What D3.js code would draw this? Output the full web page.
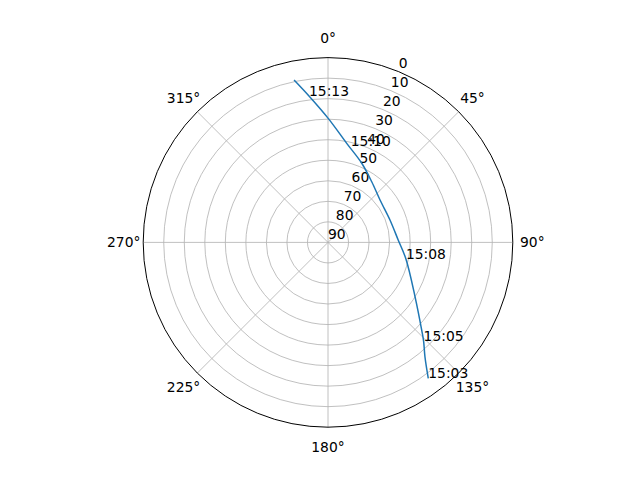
<!DOCTYPE html>
<html><head><meta charset="utf-8">
<script src="https://cdn.jsdelivr.net/npm/d3@7"></script>
<style>body{margin:0;background:#fff}svg{display:block}text{font-family:"DejaVu Sans",sans-serif;font-size:13.89px;fill:#000}</style>
</head><body>
<script>
// Pass track, ordered in time (azimuth deg, elevation deg)
const trackAz = [143.6, 139.7, 135.9, 133.1, 122.0, 102.0, 88.0, 70.1, 50.8, 35.8, 23.1, 10.7, 0.1, 352.6, 348.2];
const trackEl = [7.7, 17.0, 23.1, 27.5, 40.0, 51.2, 55.8, 57.9, 57.3, 53.6, 48.1, 40.9, 29.6, 18.1, 9.2];
// Time annotations
const labelTimes = ["15:03", "15:05", "15:08", "15:10", "15:13"];
const labelAz = [143.6, 135.9, 102.0, 13.3, 352.6];
const labelEl = [7.7, 23.1, 51.2, 41.8, 18.1];
// Axis ticks
const thetaTicks = [0, 45, 90, 135, 180, 225, 270, 315];
const rTicks = [0, 10, 20, 30, 40, 50, 60, 70, 80, 90];

const W = 640, H = 480, cx = 328, cy = 242.4, R = 184.8;
const svg = d3.select("body").append("svg").attr("width", W).attr("height", H);
const g = svg.append("g").attr("transform", `translate(${cx},${cy})`);
const r = d3.scaleLinear().domain([0, 90]).range([R, 0]);
const rad = d => d * Math.PI / 180;
const pt = (az, v) => [r(v) * Math.sin(rad(az)), -r(v) * Math.cos(rad(az))];

// radial grid circles
g.selectAll("circle.grid").data(rTicks.filter(v => v > 0 && v < 90)).enter().append("circle")
  .attr("r", d => r(d)).attr("fill", "none").attr("stroke", "#b0b0b0").attr("stroke-width", 0.8);
// theta gridlines
g.selectAll("line.tg").data(thetaTicks).enter().append("line")
  .attr("x1", 0).attr("y1", 0)
  .attr("x2", d => pt(d, 0)[0]).attr("y2", d => pt(d, 0)[1])
  .attr("stroke", "#b0b0b0").attr("stroke-width", 0.8);
// outer spine
g.append("circle").attr("r", R).attr("fill", "none").attr("stroke", "#000").attr("stroke-width", 1);

// theta labels
g.selectAll("text.th").data(thetaTicks).enter().append("text")
  .attr("x", d => (R + 19.5) * Math.sin(rad(d)))
  .attr("y", d => -(R + 19.5) * Math.cos(rad(d)))
  .attr("text-anchor", "middle").attr("dominant-baseline", "central")
  .text(d => d + "°");

// radial labels at 22.5°
g.selectAll("text.rl").data(rTicks).enter().append("text")
  .attr("x", d => pt(22.5, d)[0])
  .attr("y", d => pt(22.5, d)[1] - 3.3)
  .attr("text-anchor", "start")
  .text(d => d);

// track
const track = trackAz.map((a, i) => [rad(a), r(trackEl[i])]);
g.append("path").datum(track)
  .attr("d", d3.lineRadial().angle(d => d[0]).radius(d => d[1]).curve(d3.curveCatmullRom))
  .attr("fill", "none").attr("stroke", "#1f77b4").attr("stroke-width", 1.5);

// time labels
g.selectAll("text.tl").data(labelTimes).enter().append("text")
  .attr("x", (d, i) => pt(labelAz[i], labelEl[i])[0])
  .attr("y", (d, i) => pt(labelAz[i], labelEl[i])[1])
  .attr("text-anchor", "start")
  .text(d => d);
</script>
</body></html>
